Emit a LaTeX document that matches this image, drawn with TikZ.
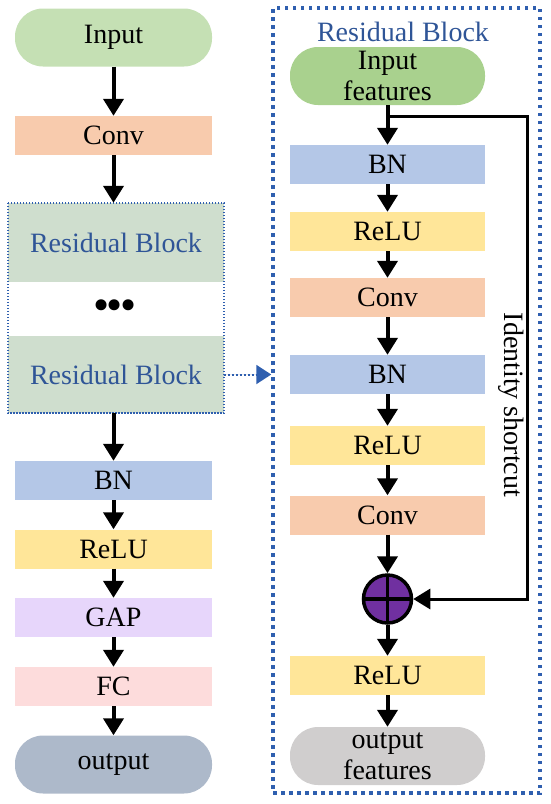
\documentclass[tikz,border=0pt]{standalone}
\usepackage{fontspec}
\setmainfont{Liberation Serif}
\usetikzlibrary{arrows.meta}

\definecolor{ingreen}{HTML}{C5E0B4}
\definecolor{featgreen}{HTML}{A9D18E}
\definecolor{convorange}{HTML}{F8CBAD}
\definecolor{bnblue}{HTML}{B4C7E7}
\definecolor{reluyellow}{HTML}{FFE699}
\definecolor{gaplilac}{HTML}{E7D6FB}
\definecolor{fcpink}{HTML}{FDDCDC}
\definecolor{outgray}{HTML}{ADB9CA}
\definecolor{featgray}{HTML}{D0CECE}
\definecolor{resgreen}{HTML}{CFDECE}
\definecolor{addpurple}{HTML}{7030A0}
\definecolor{titleblue}{HTML}{2F5597}
\definecolor{frameblue}{HTML}{2F5FAF}

\begin{document}
\begin{tikzpicture}[
    x=1pt, y=-1pt,
    box/.style={rectangle, minimum height=39pt, inner sep=0pt, align=center, font=\fontsize{28}{31}\selectfont},
    lbox/.style={box, minimum width=197pt},
    rbox/.style={box, minimum width=195pt},
    pill/.style={rounded corners=28pt, minimum height=58pt},
    arrow/.style={-{Triangle[length=17pt,width=20pt]}, line width=4pt},
    shortcut/.style={-{Triangle[length=17pt,width=20pt]}, line width=3pt},
    link/.style={-{Triangle[length=15pt,width=19pt]}, line width=2pt, dotted, draw=frameblue, fill=frameblue},
    groupline/.style={draw=frameblue, line width=1.5pt, dash pattern=on 1.5pt off 1.5pt},
    bluetext/.style={text=titleblue, font=\fontsize{28}{31}\selectfont}
]
    \useasboundingbox (0,0) rectangle (550,804);

    % left column
    \node (input) at (113.5,37.5) [lbox, pill, fill=ingreen] {Input};
    \node (conv) at (113.5,135.5) [lbox, fill=convorange] {Conv};

    \node (rb1) at (116,242.5) [box, minimum width=216pt, minimum height=79pt, fill=resgreen, bluetext] {Residual Block};
    \node (dots) at (115,310) [box, font=\fontsize{46}{46}\selectfont] {\textbullet\hspace{-3pt}\textbullet\hspace{-3pt}\textbullet};
    \node (rb2) at (116,374.5) [box, minimum width=216pt, minimum height=77pt, fill=resgreen, bluetext] {Residual Block};
    \draw[groupline] (rb1.north west) rectangle (rb2.south east);

    \node (bn) at (113.5,480.5) [lbox, fill=bnblue] {BN};
    \node (relu) at (113.5,549) [lbox, fill=reluyellow] {ReLU};
    \node (gap) at (113.5,617.5) [lbox, fill=gaplilac] {GAP};
    \node (fc) at (113.5,686.5) [lbox, fill=fcpink] {FC};
    \node (output) at (113.5,764.5) [lbox, pill, fill=outgray] {output};

    \draw[arrow] (input) -- (conv);
    \draw[arrow] (conv.south) -- (conv.south |- rb1.north);
    \draw[arrow] (rb2.south -| bn.north) -- (bn.north);
    \draw[arrow] (bn) -- (relu);
    \draw[arrow] (relu) -- (gap);
    \draw[arrow] (gap) -- (fc);
    \draw[arrow] (fc) -- (output);

    % residual block panel
    \node (panel) at (406.5,400.5) [draw=frameblue, line width=3.5pt, dash pattern=on 3.5pt off 4.5pt, minimum width=267pt, minimum height=785pt] {};
    \node (title) at (403,32) [bluetext] {Residual Block};

    \node (infeat) at (387.5,76) [rbox, pill, fill=featgreen] {Input\\features};
    \node (bn1) at (387.5,164.5) [rbox, fill=bnblue] {BN};
    \node (relu1) at (387.5,231.5) [rbox, fill=reluyellow] {ReLU};
    \node (conv1) at (387.5,297.5) [rbox, fill=convorange] {Conv};
    \node (bn2) at (387.5,374.5) [rbox, fill=bnblue] {BN};
    \node (relu2) at (387.5,445.5) [rbox, fill=reluyellow] {ReLU};
    \node (conv2) at (387.5,515) [rbox, fill=convorange] {Conv};
    \node (add) at (387.5,599) [circle, draw, line width=3.5pt, fill=addpurple, minimum size=48pt, inner sep=0pt] {};
    \draw[line width=3.5pt] (add.center) +(0,-24) -- +(0,24) (add.center) +(-24,0) -- +(24,0);
    \node (relu3) at (387.5,675.5) [rbox, fill=reluyellow] {ReLU};
    \node (outfeat) at (387.5,756) [rbox, pill, fill=featgray] {output\\features};

    \draw[arrow] (infeat) -- (bn1);
    \draw[arrow] (bn1) -- (relu1);
    \draw[arrow] (relu1) -- (conv1);
    \draw[arrow] (conv1) -- (bn2);
    \draw[arrow] (bn2) -- (relu2);
    \draw[arrow] (relu2) -- (conv2);
    \draw[arrow] (conv2) -- (add);
    \draw[arrow] (add) -- (relu3);
    \draw[arrow] (relu3) -- (outfeat);

    \coordinate (split) at (387.5,116);
    \coordinate (turn) at (527,116);
    \draw[shortcut] (split) -- (turn) |- (add.east);
    \node (idlabel) at (511,405) [rotate=-90, font=\fontsize{28}{31}\selectfont] {Identity shortcut};

    \draw[link] (rb2.east) -- (rb2.east -| panel.west);
\end{tikzpicture}
\end{document}
